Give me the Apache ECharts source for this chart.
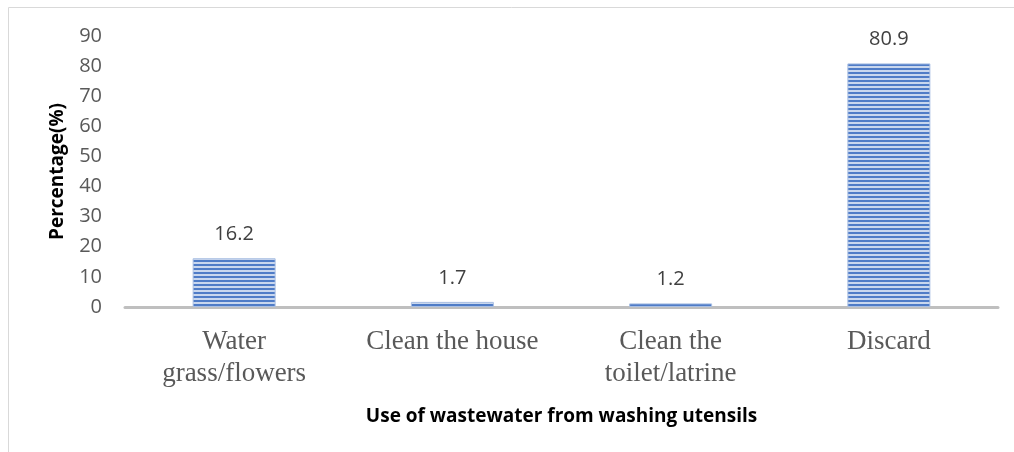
<!DOCTYPE html>
<html>
<head>
<meta charset="utf-8">
<script src="https://cdn.jsdelivr.net/npm/echarts@6/dist/echarts.min.js"></script>
<style>
  html, body { margin: 0; padding: 0; background: #fff; }
  #chart { width: 1014px; height: 452px; }
</style>
</head>
<body>
<div id="chart"></div>
<script>
// 数据
const categories = ["Water\ngrass/flowers", "Clean the house", "Clean the\ntoilet/latrine", "Discard"];
const percentValues = [16.2, 1.7, 1.2, 80.9];
const yTicks = { min: 0, max: 90, interval: 10 };

// 横条纹填充
function stripePattern() {
  const c = document.createElement("canvas");
  c.width = 4;
  c.height = 4;
  const ctx = c.getContext("2d");
  ctx.fillStyle = "#c9d7ee";
  ctx.fillRect(0, 0, 4, 4);
  ctx.fillStyle = "#4f7cc7";
  ctx.fillRect(0, 0, 4, 2);
  return c;
}

const chart = echarts.init(document.getElementById("chart"));
const option = {
  animation: false,
  grid: { left: 125, right: 16, top: 36, bottom: 145 },
  graphic: [
    {
      type: "rect",
      shape: { x: 8.5, y: 7.5, width: 1020, height: 460 },
      style: { fill: "none", stroke: "#d9d9d9", lineWidth: 1 },
      silent: true,
    },
  ],
  xAxis: {
    type: "category",
    data: categories,
    name: "Use of wastewater from washing utensils",
    nameLocation: "middle",
    nameGap: 100,
    nameTextStyle: {
      fontFamily: "Open Sans",
      fontWeight: "bold",
      fontSize: 19,
      color: "#000",
    },
    axisLine: { lineStyle: { color: "#bfbfbf", width: 3 } },
    axisTick: { show: false },
    axisLabel: {
      interval: 0,
      hideOverlap: false,
      fontFamily: "Liberation Serif",
      fontSize: 27,
      color: "#595959",
      lineHeight: 32,
      margin: 19,
    },
  },
  yAxis: {
    type: "value",
    min: yTicks.min,
    max: yTicks.max,
    interval: yTicks.interval,
    name: "Percentage(%)",
    nameLocation: "middle",
    nameGap: 58,
    nameTextStyle: {
      fontFamily: "Open Sans",
      fontWeight: "bold",
      fontSize: 19,
      color: "#000",
    },
    splitLine: { show: false },
    axisLine: { show: false },
    axisTick: { show: false },
    axisLabel: {
      fontFamily: "Open Sans",
      fontSize: 20,
      color: "#595959",
      margin: 23,
    },
  },
  series: [
    {
      type: "bar",
      data: percentValues,
      barWidth: 83,
      itemStyle: {
        color: { image: stripePattern(), repeat: "repeat" },
        borderColor: "#a9bfe3",
        borderWidth: 1,
      },
      label: {
        show: true,
        position: "top",
        distance: 14,
        fontFamily: "Open Sans",
        fontSize: 20,
        color: "#404040",
      },
    },
  ],
};
chart.setOption(option);
</script>
</body>
</html>
